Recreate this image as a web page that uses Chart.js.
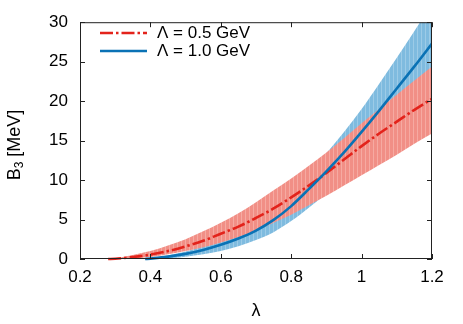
<!DOCTYPE html>
<html>
<head>
<meta charset="utf-8">
<script src="https://cdn.jsdelivr.net/npm/chart.js@4"></script>
<style>
  body { margin: 0; background: #fff; }
  canvas { display: block; }
</style>
</head>
<body>
<canvas id="chart" width="463" height="324"></canvas>
<script>
// axis ticks
const xTicks = [0.2, 0.4, 0.6, 0.8, 1.0, 1.2];
const xTickLabels = ['0.2', '0.4', '0.6', '0.8', '1', '1.2'];
const yTicks = [0, 5, 10, 15, 20, 25, 30];

// Lambda = 0.5 GeV
const lamRed = [0.28, 0.30, 0.35, 0.40, 0.45, 0.50, 0.55, 0.60, 0.65, 0.70, 0.75, 0.80, 0.85, 0.90, 0.95, 1.00, 1.05, 1.10, 1.15, 1.20];
const redCentral = [0, 0.03, 0.25, 0.55, 1.0, 1.6, 2.3, 3.2, 4.1, 5.2, 6.4, 7.8, 9.3, 10.9, 12.6, 14.3, 15.9, 17.4, 18.9, 20.3];
const redLower = [0, 0, 0.1, 0.25, 0.6, 1.0, 1.5, 2.1, 2.8, 3.6, 4.6, 5.6, 6.8, 8.0, 9.3, 10.6, 11.9, 13.2, 14.6, 15.9];
const redUpper = [0, 0.08, 0.5, 1.0, 1.7, 2.5, 3.5, 4.6, 5.8, 7.2, 8.7, 10.2, 11.8, 13.5, 15.3, 17.2, 19.0, 20.8, 22.6, 24.4];

// Lambda = 1.0 GeV
const lamBlue = [0.385, 0.40, 0.45, 0.50, 0.55, 0.60, 0.65, 0.70, 0.75, 0.80, 0.85, 0.90, 0.95, 1.00, 1.05, 1.10, 1.15, 1.20];
const blueCentral = [0, 0.05, 0.3, 0.65, 1.15, 1.8, 2.6, 3.6, 4.95, 6.7, 8.85, 11.1, 13.5, 16.1, 18.8, 21.6, 24.4, 27.3];
const blueLower = [0, 0, 0.1, 0.3, 0.6, 1.0, 1.6, 2.4, 3.4, 4.8, 6.5, 8.3, 10.1, 12.0, 14.2, 16.4, 18.5, 20.6];
const blueUpper = [0, 0.1, 0.45, 0.95, 1.6, 2.5, 3.6, 4.9, 6.5, 8.5, 10.8, 13.4, 16.1, 19.0, 22.2, 25.5, 28.9, 32.3];

const seriesLabels = ['\u039B = 0.5 GeV', '\u039B = 1.0 GeV'];
const RED = '#e3231b';
const BLUE = '#0a72b5';
const FONT = '"Liberation Sans", Arial, sans-serif';

function pts(xs, ys) {
    return xs.map((x, i) => ({ x: x, y: ys[i] }));
}

// vertical streaks like the gnuplot fill
function stripes(base, light) {
    const c = document.createElement('canvas');
    c.width = 4; c.height = 1;
    const g = c.getContext('2d');
    g.fillStyle = base; g.fillRect(0, 0, 4, 1);
    g.fillStyle = light; g.fillRect(1, 0, 1, 1);
    return g.createPattern(c, 'repeat');
}
const ctx = document.getElementById('chart').getContext('2d');
const redFill = stripes('#f18f86', '#f6aaa2');
const blueFill = stripes('#7fbbdf', '#9ccbe7');

const band = { borderWidth: 0, pointRadius: 0, cubicInterpolationMode: 'monotone' };

const framePlugin = {
    id: 'frame',
    afterDatasetsDraw(chart) {
        const c = chart.ctx, a = chart.chartArea;
        const xs = chart.scales.x, ys = chart.scales.y;
        c.save();
        c.strokeStyle = '#222';
        c.lineWidth = 1;
        c.strokeRect(a.left + 0.5, a.top + 0.5, a.right - a.left - 1, a.bottom - a.top - 1);
        c.beginPath();
        xTicks.forEach(v => {
            const px = Math.round(xs.getPixelForValue(v)) + 0.5;
            c.moveTo(px, a.bottom); c.lineTo(px, a.bottom - 5);
            c.moveTo(px, a.top); c.lineTo(px, a.top + 5);
        });
        yTicks.forEach(v => {
            const py = Math.round(ys.getPixelForValue(v)) + 0.5;
            c.moveTo(a.left, py); c.lineTo(a.left + 5, py);
            c.moveTo(a.right, py); c.lineTo(a.right - 5, py);
        });
        c.stroke();

        // legend
        c.lineWidth = 2.6;
        c.strokeStyle = RED;
        c.setLineDash([13, 3, 2.5, 3]);
        c.beginPath(); c.moveTo(100, 33); c.lineTo(147, 33); c.stroke();
        c.setLineDash([]);
        c.strokeStyle = BLUE;
        c.beginPath(); c.moveTo(100, 51); c.lineTo(147, 51); c.stroke();
        c.fillStyle = '#000';
        c.font = '17px ' + FONT;
        c.textBaseline = 'middle';
        c.textAlign = 'left';
        c.fillText(seriesLabels[0], 157, 33);
        c.fillText(seriesLabels[1], 157, 51);

        // axis titles
        c.font = '18px ' + FONT;
        c.textAlign = 'center';
        c.fillText('\u03BB', (a.left + a.right) / 2, 311);
        c.save();
        c.translate(15, 145);
        c.rotate(-Math.PI / 2);
        c.textAlign = 'left';
        const wB = c.measureText('B').width;
        c.font = '12px ' + FONT;
        const w3 = c.measureText('3').width;
        c.font = '18px ' + FONT;
        const wRest = c.measureText(' [MeV]').width;
        let x0 = -(wB + w3 + wRest) / 2;
        c.fillText('B', x0, 0);
        c.font = '12px ' + FONT;
        c.fillText('3', x0 + wB, 5);
        c.font = '18px ' + FONT;
        c.fillText(' [MeV]', x0 + wB + w3, 0);
        c.restore();
        c.restore();
    }
};

new Chart(ctx, {
    type: 'line',
    data: {
        datasets: [
            { data: pts(lamBlue, blueLower), ...band, fill: false, order: 6 },
            { data: pts(lamBlue, blueUpper), ...band, fill: '-1', backgroundColor: blueFill, order: 5 },
            { data: pts(lamRed, redLower), ...band, fill: false, order: 4 },
            { data: pts(lamRed, redUpper), ...band, fill: '-1', backgroundColor: redFill, order: 3 },
            {
                label: seriesLabels[0], data: pts(lamRed, redCentral), borderColor: RED, borderWidth: 2.6,
                borderDash: [13, 3, 2.5, 3], pointRadius: 0, cubicInterpolationMode: 'monotone', fill: false, order: 2,
                clip: { left: 0, top: 0, right: 0, bottom: 3 }
            },
            {
                label: seriesLabels[1], data: pts(lamBlue, blueCentral), borderColor: BLUE, borderWidth: 2.6,
                pointRadius: 0, cubicInterpolationMode: 'monotone', fill: false, order: 1,
                clip: { left: 0, top: 0, right: 0, bottom: 3 }
            }
        ]
    },
    options: {
        responsive: false,
        animation: false,
        layout: { padding: { top: 20, right: 31, left: 0, bottom: 0 } },
        plugins: { legend: { display: false }, tooltip: { enabled: false } },
        scales: {
            x: {
                type: 'linear', min: 0.2, max: 1.2,
                grid: { display: false, drawTicks: false },
                border: { display: false },
                afterBuildTicks: s => { s.ticks = xTicks.map(v => ({ value: v })); },
                afterFit: s => { s.height = 65; },
                ticks: {
                    padding: 8, color: '#000', font: { family: FONT, size: 17 },
                    maxRotation: 0,
                    callback: v => xTickLabels[xTicks.findIndex(t => Math.abs(t - v) < 1e-9)]
                }
            },
            y: {
                type: 'linear', min: 0, max: 30,
                grid: { display: false, drawTicks: false },
                border: { display: false },
                afterBuildTicks: s => { s.ticks = yTicks.map(v => ({ value: v })); },
                afterFit: s => { s.width = 80; },
                ticks: { padding: 12, color: '#000', font: { family: FONT, size: 17 } }
            }
        }
    },
    plugins: [framePlugin]
});
</script>
</body>
</html>
